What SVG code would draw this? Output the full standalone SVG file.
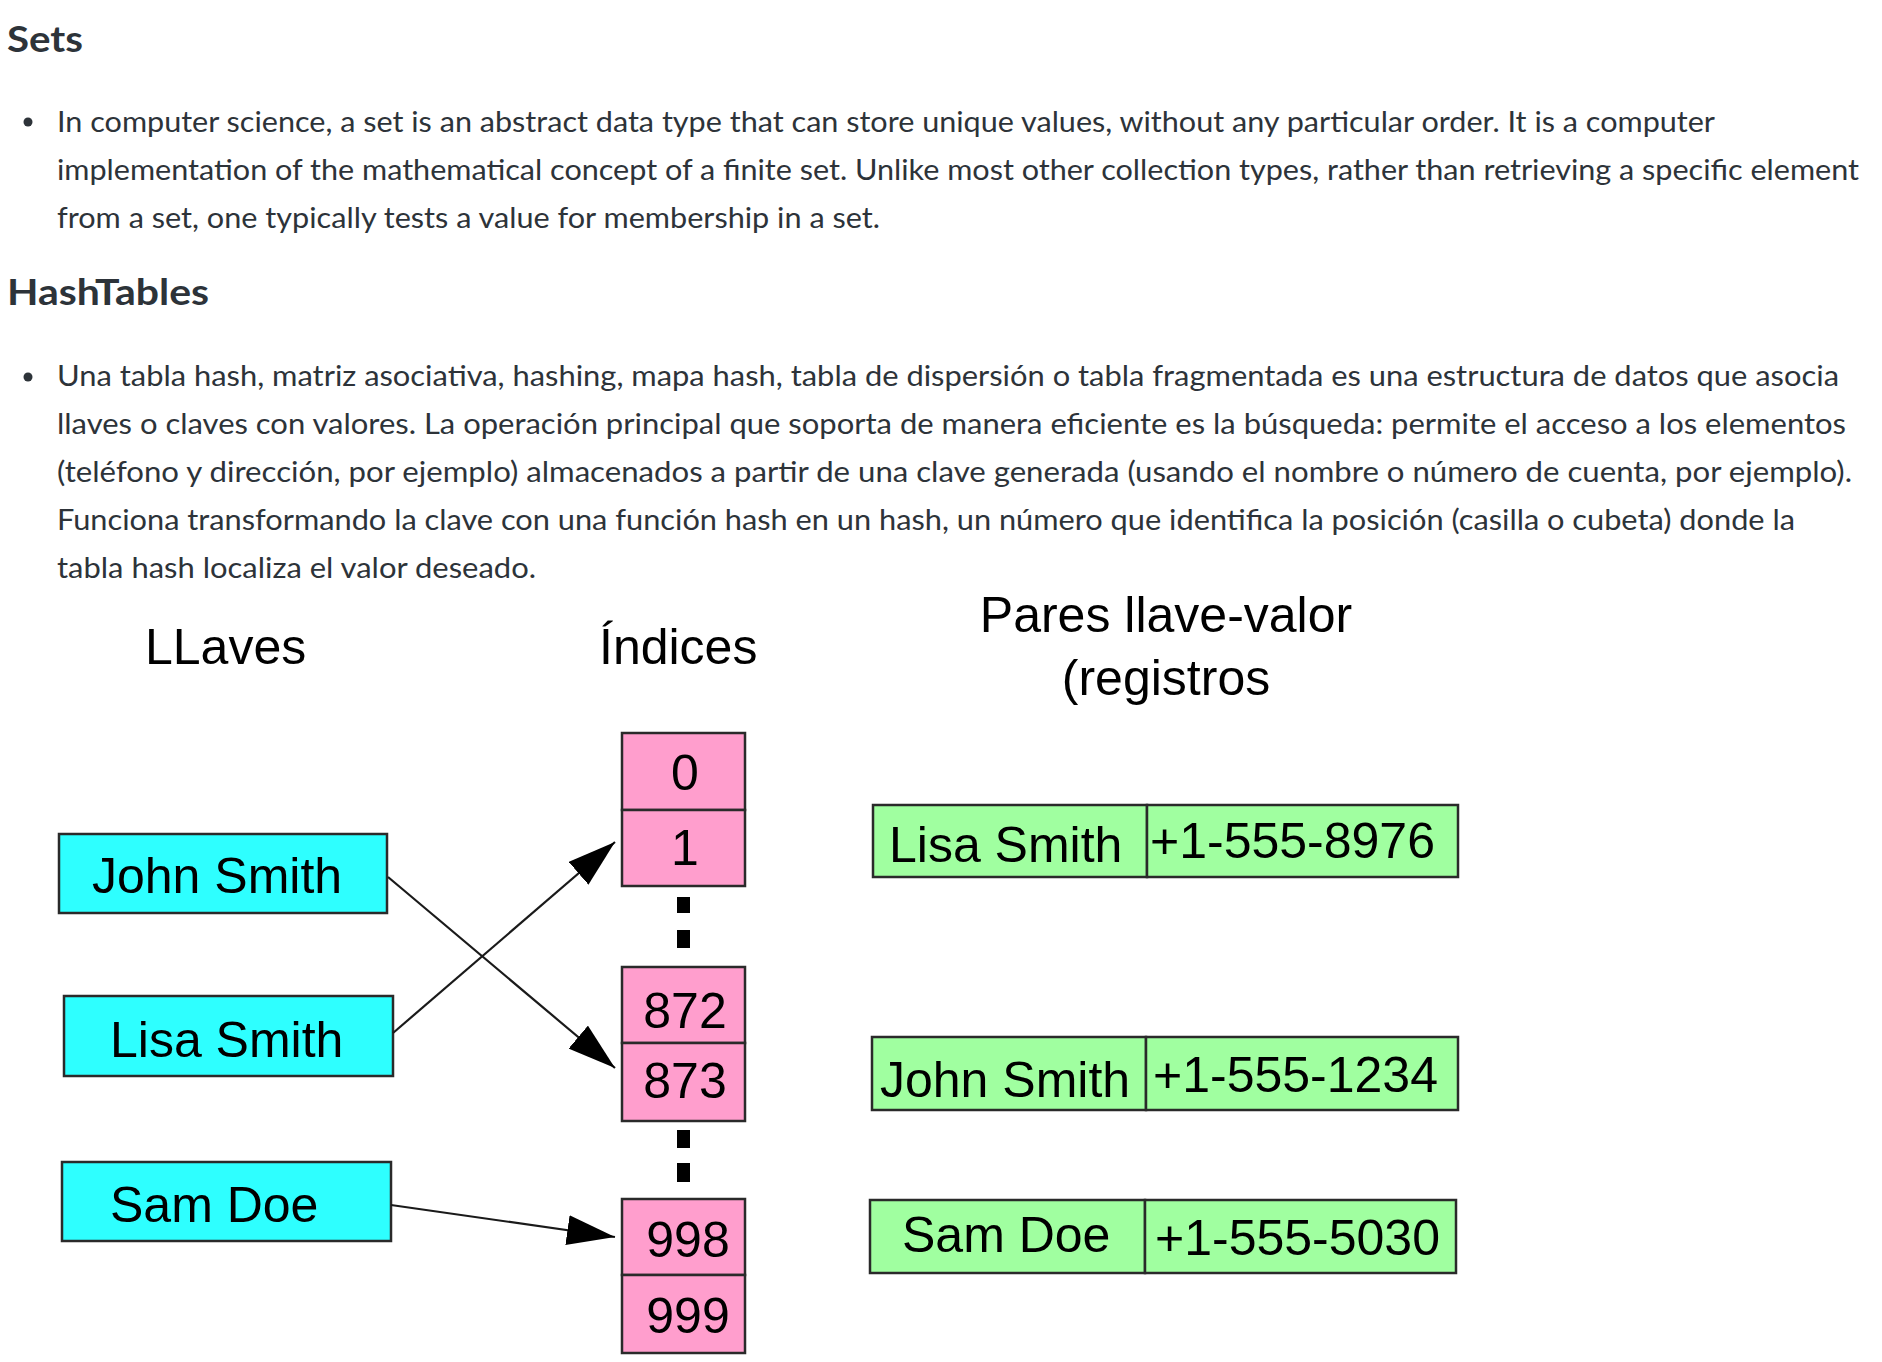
<svg xmlns="http://www.w3.org/2000/svg" width="1882" height="1362" viewBox="0 0 1882 1362">
<style>
.h{font-family:Lato,"Noto Sans",sans-serif;font-weight:700;font-size:37px;fill:#2d3339}
.p{font-family:Lato,"Noto Sans",sans-serif;font-size:28px;fill:#2d3339}
.d{font-family:"Liberation Sans",Arial,sans-serif;font-size:50px;fill:#000}
.key{fill:#2effff;stroke:#2a2a2a;stroke-width:2.5}
.idx{fill:#ff9ecd;stroke:#2a2a2a;stroke-width:2.5}
.rec{fill:#a0ffa0;stroke:#2a2a2a;stroke-width:2.5}
.dash{fill:#000}
.edge{stroke:#1a1a1a;stroke-width:2.2;fill:none;marker-end:url(#ah)}
</style>
<defs>
<marker id="ah" markerUnits="userSpaceOnUse" markerWidth="48" markerHeight="30" refX="48" refY="15" orient="auto" viewBox="0 0 48 30">
<path d="M0,0 L48,15 L0,30 z" fill="#000"/>
</marker>
</defs>
<rect width="1882" height="1362" fill="#fff"/>

<g id="text">
<text class="h" x="7" y="52" textLength="76" lengthAdjust="spacingAndGlyphs">Sets</text>
<circle cx="28" cy="122" r="4.5" fill="#2d3339"/>
<text class="p" x="57" y="132" textLength="1658" lengthAdjust="spacingAndGlyphs">In computer science, a set is an abstract data type that can store unique values, without any particular order. It is a computer</text>
<text class="p" x="57" y="180" textLength="1802" lengthAdjust="spacingAndGlyphs">implementation of the mathematical concept of a finite set. Unlike most other collection types, rather than retrieving a specific element</text>
<text class="p" x="57" y="228" textLength="823" lengthAdjust="spacingAndGlyphs">from a set, one typically tests a value for membership in a set.</text>
<text class="h" x="7" y="305" textLength="202" lengthAdjust="spacingAndGlyphs">HashTables</text>
<circle cx="28" cy="377" r="4.5" fill="#2d3339"/>
<text class="p" x="57" y="386" textLength="1782" lengthAdjust="spacingAndGlyphs">Una tabla hash, matriz asociativa, hashing, mapa hash, tabla de dispersión o tabla fragmentada es una estructura de datos que asocia</text>
<text class="p" x="57" y="434" textLength="1789" lengthAdjust="spacingAndGlyphs">llaves o claves con valores. La operación principal que soporta de manera eficiente es la búsqueda: permite el acceso a los elementos</text>
<text class="p" x="57" y="482" textLength="1795" lengthAdjust="spacingAndGlyphs">(teléfono y dirección, por ejemplo) almacenados a partir de una clave generada (usando el nombre o número de cuenta, por ejemplo).</text>
<text class="p" x="57" y="530" textLength="1738" lengthAdjust="spacingAndGlyphs">Funciona transformando la clave con una función hash en un hash, un número que identifica la posición (casilla o cubeta) donde la</text>
<text class="p" x="57" y="578" textLength="479" lengthAdjust="spacingAndGlyphs">tabla hash localiza el valor deseado.</text>
</g>

<g id="labels">
<text class="d" x="145" y="664">LLaves</text>
<text class="d" x="599" y="664">Índices</text>
<text class="d" x="1166" y="632" text-anchor="middle">Pares llave-valor</text>
<text class="d" x="1166" y="695" text-anchor="middle">(registros</text>
</g>

<g id="key-john">
<rect class="key" x="59" y="834" width="328" height="79"/>
<text class="d" x="92" y="893">John Smith</text>
</g>
<g id="key-lisa">
<rect class="key" x="64" y="996" width="329" height="80"/>
<text class="d" x="110" y="1057">Lisa Smith</text>
</g>
<g id="key-sam">
<rect class="key" x="62" y="1162" width="329" height="79"/>
<text class="d" x="110" y="1222">Sam Doe</text>
</g>

<g id="idx-0"><rect class="idx" x="622" y="733" width="123" height="77"/><text class="d" x="685" y="790" text-anchor="middle">0</text></g>
<g id="idx-1"><rect class="idx" x="622" y="810" width="123" height="76"/><text class="d" x="685" y="865" text-anchor="middle">1</text></g>
<g id="gap-1"><rect class="dash" x="677" y="897" width="13" height="16"/><rect class="dash" x="677" y="930" width="13" height="18"/></g>
<g id="idx-872"><rect class="idx" x="622" y="967" width="123" height="76"/><text class="d" x="685" y="1028" text-anchor="middle">872</text></g>
<g id="idx-873"><rect class="idx" x="622" y="1043" width="123" height="78"/><text class="d" x="685" y="1098" text-anchor="middle">873</text></g>
<g id="gap-2"><rect class="dash" x="677" y="1130" width="13" height="18"/><rect class="dash" x="677" y="1163" width="13" height="19"/></g>
<g id="idx-998"><rect class="idx" x="622" y="1199" width="123" height="76"/><text class="d" x="688" y="1257" text-anchor="middle">998</text></g>
<g id="idx-999"><rect class="idx" x="622" y="1275" width="123" height="78"/><text class="d" x="688" y="1333" text-anchor="middle">999</text></g>

<g id="rec-lisa">
<rect class="rec" x="873" y="805" width="274" height="72"/>
<rect class="rec" x="1147" y="805" width="311" height="72"/>
<text class="d" x="889" y="862">Lisa Smith</text>
<text class="d" x="1150" y="858">+1-555-8976</text>
</g>
<g id="rec-john">
<rect class="rec" x="872" y="1037" width="274" height="73"/>
<rect class="rec" x="1146" y="1037" width="312" height="73"/>
<text class="d" x="880" y="1097">John Smith</text>
<text class="d" x="1153" y="1092">+1-555-1234</text>
</g>
<g id="rec-sam">
<rect class="rec" x="870" y="1200" width="275" height="73"/>
<rect class="rec" x="1145" y="1200" width="311" height="73"/>
<text class="d" x="902" y="1252">Sam Doe</text>
<text class="d" x="1155" y="1255">+1-555-5030</text>
</g>

<g id="connectors">
<line class="edge" x1="388" y1="877" x2="615" y2="1068"/>
<line class="edge" x1="393" y1="1033" x2="615" y2="842"/>
<line class="edge" x1="391" y1="1205" x2="615" y2="1237"/>
</g>
</svg>
